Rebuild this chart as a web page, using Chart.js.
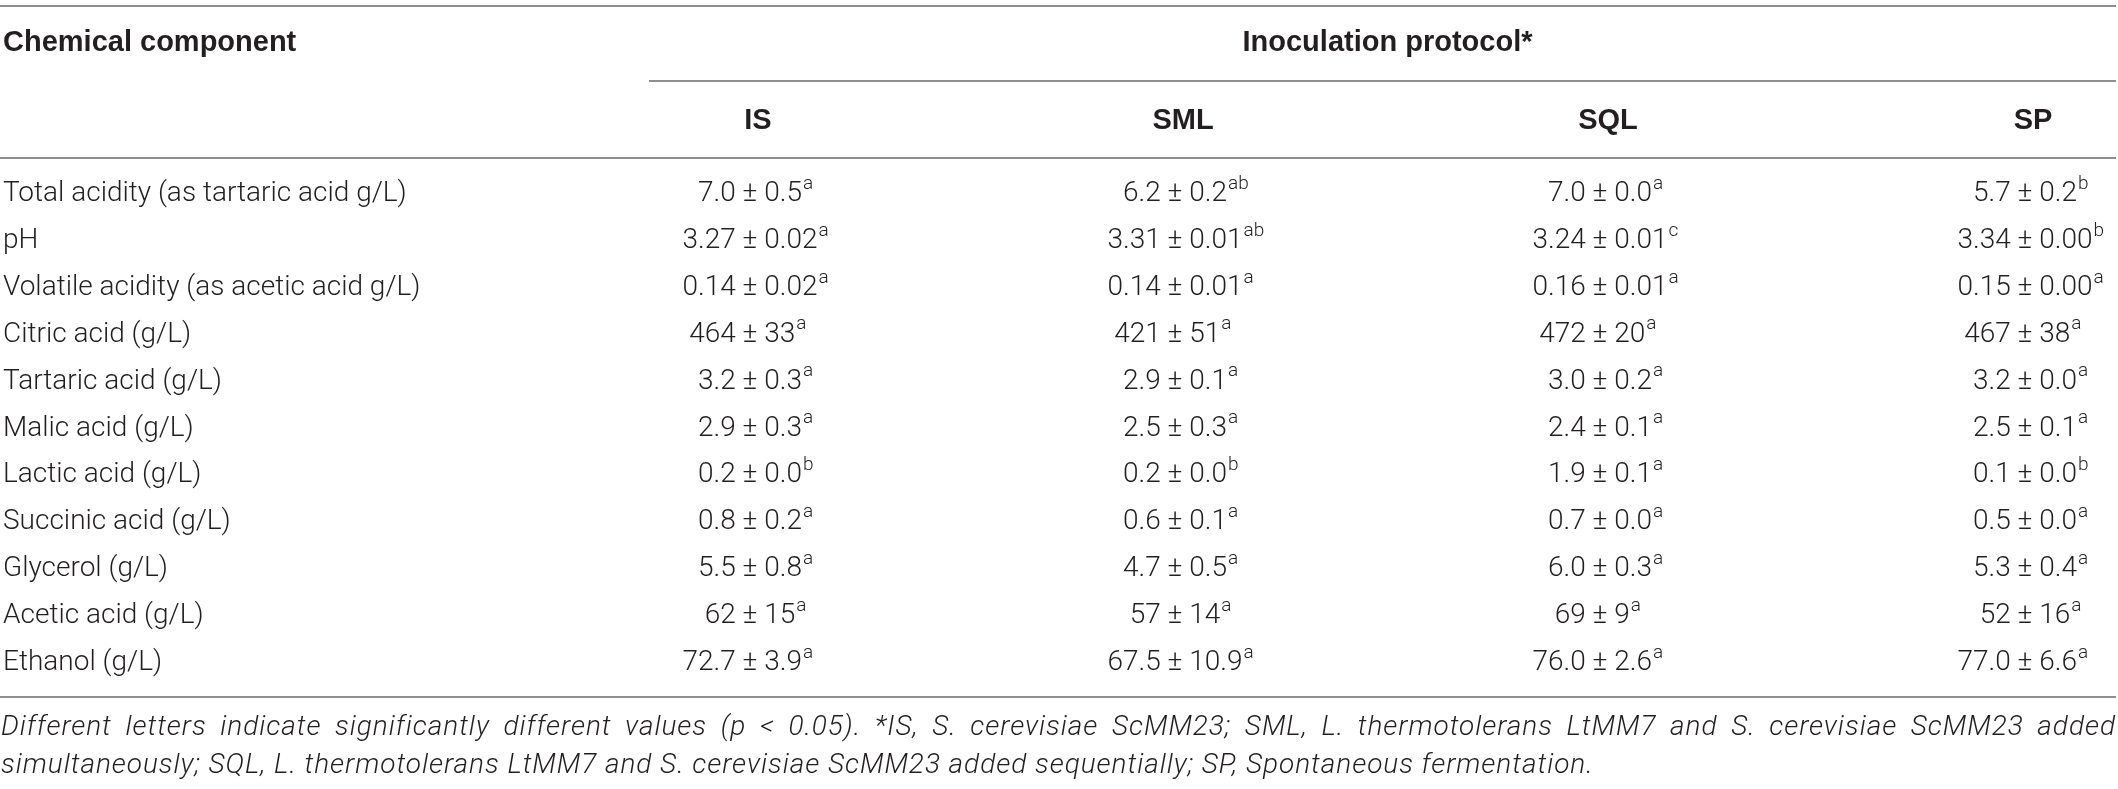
<!DOCTYPE html>
<html>
<head>
<meta charset="utf-8">
<title>Chemical composition by inoculation protocol</title>
<script src="https://cdn.jsdelivr.net/npm/chart.js@4.4.1/dist/chart.umd.min.js"></script>
<style>
  html, body { margin: 0; padding: 0; background: #fff; }
  #wrap { position: relative; width: 2118px; height: 789px; }
  #tableChart { position: absolute; left: 0; top: 0; }
  #note {
    position: absolute; left: 1px; top: 707px; width: 2115px;
    font-family: Roboto, "Liberation Sans", Arial, sans-serif;
    font-style: italic; font-weight: 300; font-size: 28px;
    letter-spacing: 0.95px;
    line-height: 38px; color: #231f20;
  }
  #note .first { text-align: justify; text-align-last: justify; }
</style>
</head>
<body>
<div id="wrap">
  <canvas id="tableChart" width="2118" height="789"></canvas>
  <div id="note">
    <div class="first">Different letters indicate significantly different values (p &lt; 0.05). *IS, S. cerevisiae ScMM23; SML, L. thermotolerans LtMM7 and S. cerevisiae ScMM23 added</div>
    <div>simultaneously; SQL, L. thermotolerans LtMM7 and S. cerevisiae ScMM23 added sequentially; SP, Spontaneous fermentation.</div>
  </div>
</div>
<script>
// rows and columns
const components = [
  "Total acidity (as tartaric acid g/L)",
  "pH",
  "Volatile acidity (as acetic acid g/L)",
  "Citric acid (g/L)",
  "Tartaric acid (g/L)",
  "Malic acid (g/L)",
  "Lactic acid (g/L)",
  "Succinic acid (g/L)",
  "Glycerol (g/L)",
  "Acetic acid (g/L)",
  "Ethanol (g/L)"
];
const protocols = ["IS", "SML", "SQL", "SP"];
const rowTitle = "Chemical component";
const groupTitle = "Inoculation protocol*";

// mean, standard deviation and significance letter per protocol
const meanIS = ["7.0", "3.27", "0.14", "464", "3.2", "2.9", "0.2", "0.8", "5.5", "62", "72.7"];
const sdIS = ["0.5", "0.02", "0.02", "33", "0.3", "0.3", "0.0", "0.2", "0.8", "15", "3.9"];
const letterIS = ["a", "a", "a", "a", "a", "a", "b", "a", "a", "a", "a"];

const meanSML = ["6.2", "3.31", "0.14", "421", "2.9", "2.5", "0.2", "0.6", "4.7", "57", "67.5"];
const sdSML = ["0.2", "0.01", "0.01", "51", "0.1", "0.3", "0.0", "0.1", "0.5", "14", "10.9"];
const letterSML = ["ab", "ab", "a", "a", "a", "a", "b", "a", "a", "a", "a"];

const meanSQL = ["7.0", "3.24", "0.16", "472", "3.0", "2.4", "1.9", "0.7", "6.0", "69", "76.0"];
const sdSQL = ["0.0", "0.01", "0.01", "20", "0.2", "0.1", "0.1", "0.0", "0.3", "9", "2.6"];
const letterSQL = ["a", "c", "a", "a", "a", "a", "a", "a", "a", "a", "a"];

const meanSP = ["5.7", "3.34", "0.15", "467", "3.2", "2.5", "0.1", "0.5", "5.3", "52", "77.0"];
const sdSP = ["0.2", "0.00", "0.00", "38", "0.0", "0.1", "0.0", "0.0", "0.4", "16", "6.6"];
const letterSP = ["b", "b", "a", "a", "a", "a", "b", "a", "a", "a", "a"];

const FONT = "Roboto, 'Liberation Sans', Arial, sans-serif";
const BOLD_FONT = "'Liberation Sans', Arial, sans-serif";
const TEXT = "#231f20";
const RULE = "#8f8f8f";

// one invisible point per cell, the plugin writes the value on it
function cellDataset(protocol, means, sds, letters) {
  return {
    label: protocol,
    data: components.map((c) => ({ x: protocol, y: c })),
    means: means,
    sds: sds,
    letters: letters,
    pointRadius: 0,
    showLine: false
  };
}

// "mean ± sd^letter" lined up on the ± sign
function drawCell(ctx, x, y, mean, sd, letter) {
  ctx.font = "300 28px " + FONT;
  ctx.fillStyle = TEXT;
  ctx.textBaseline = "middle";
  const pm = ctx.measureText("±").width;
  ctx.textAlign = "right";
  ctx.fillText(mean + " ", x - pm / 2, y);
  ctx.textAlign = "center";
  ctx.fillText("±", x, y);
  ctx.textAlign = "left";
  const right = " " + sd;
  ctx.fillText(right, x + pm / 2, y);
  const w = ctx.measureText(right).width;
  ctx.font = "300 19px " + FONT;
  ctx.fillText(letter, x + pm / 2 + w + 1, y - 10);
}

const tablePlugin = {
  id: "tableText",
  beforeDraw(chart) {
    const ctx = chart.ctx;
    ctx.save();
    // horizontal rules of the table
    ctx.strokeStyle = RULE;
    ctx.lineWidth = 2;
    const rules = [[0, 6], [649, 81], [0, 158], [0, 697]];
    rules.forEach(([x0, y]) => {
      ctx.beginPath();
      ctx.moveTo(x0, y);
      ctx.lineTo(2116, y);
      ctx.stroke();
    });
    ctx.font = "bold 29px " + BOLD_FONT;
    ctx.fillStyle = TEXT;
    ctx.textAlign = "left";
    ctx.textBaseline = "middle";
    ctx.fillText(rowTitle, 3, 43);
    ctx.restore();
  },
  afterDatasetsDraw(chart) {
    const ctx = chart.ctx;
    ctx.save();
    chart.data.datasets.forEach((ds, i) => {
      const meta = chart.getDatasetMeta(i);
      meta.data.forEach((pt, j) => {
        drawCell(ctx, pt.x, pt.y, ds.means[j], ds.sds[j], ds.letters[j]);
      });
    });
    ctx.restore();
  }
};

new Chart(document.getElementById("tableChart"), {
  type: "scatter",
  data: {
    datasets: [
      cellDataset("IS", meanIS, sdIS, letterIS),
      cellDataset("SML", meanSML, sdSML, letterSML),
      cellDataset("SQL", meanSQL, sdSQL, letterSQL),
      cellDataset("SP", meanSP, sdSP, letterSP)
    ]
  },
  options: {
    responsive: false,
    animation: false,
    events: [],
    layout: { padding: { left: 3, right: 93, top: 0, bottom: 126 } },
    plugins: {
      legend: { display: false },
      tooltip: { enabled: false }
    },
    scales: {
      x: {
        type: "category",
        labels: protocols,
        position: "top",
        offset: false,
        grid: { display: false, drawTicks: false },
        border: { display: false },
        ticks: {
          font: { family: BOLD_FONT, size: 29, weight: "bold" },
          color: TEXT,
          padding: 56,
          labelOffset: 8,
          autoSkip: false,
          maxRotation: 0
        },
        title: {
          display: true,
          text: groupTitle,
          font: { family: BOLD_FONT, size: 29, weight: "bold" },
          color: TEXT,
          padding: { top: 26, bottom: 0 }
        },
        afterFit: (scale) => { scale.height = 194; }
      },
      y: {
        type: "category",
        labels: components,
        position: "left",
        offset: false,
        grid: { display: false, drawTicks: false },
        border: { display: false },
        ticks: {
          crossAlign: "far",
          font: { family: FONT, size: 28, weight: 300 },
          color: TEXT,
          padding: 0,
          autoSkip: false
        },
        afterFit: (scale) => { scale.width = 747; }
      }
    }
  },
  plugins: [tablePlugin]
});
</script>
</body>
</html>
